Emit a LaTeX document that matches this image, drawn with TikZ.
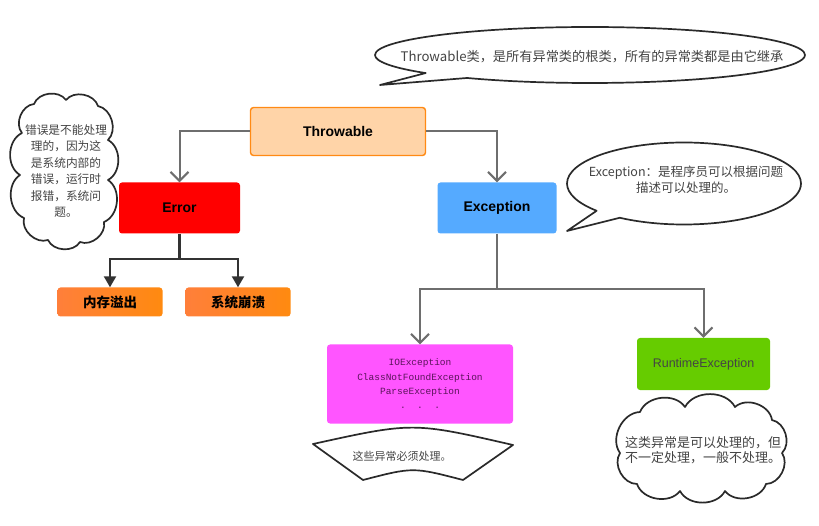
\documentclass[tikz,border=0pt]{standalone}
\usepackage{fontspec}
\setmainfont{Liberation Sans}
\newfontfamily\cjk{Noto Sans CJK SC}
\newfontfamily\monof{Liberation Mono}
\usetikzlibrary{shapes.symbols,shapes.callouts,arrows.meta}
\definecolor{conn}{HTML}{6E6E6E}
\definecolor{dconn}{HTML}{333333}
\definecolor{thrfill}{HTML}{FFD4A8}
\definecolor{thrdraw}{HTML}{FF8A14}
\definecolor{errfill}{HTML}{FF0000}
\definecolor{excfill}{HTML}{55AAFF}
\definecolor{orL}{HTML}{FF7F3A}
\definecolor{orR}{HTML}{FF8A10}
\definecolor{magfill}{HTML}{FF55FF}
\definecolor{magtext}{HTML}{5A145A}
\definecolor{rtfill}{HTML}{66CC00}
\definecolor{bubline}{HTML}{2A2A2A}
\definecolor{bubtext}{HTML}{444444}
\begin{document}
\begin{tikzpicture}[x=1pt,y=-1pt,
  box/.style={rectangle, rounded corners=3pt, inner sep=0pt},
  boldlabel/.style={font=\bfseries\fontsize{14}{16}\selectfont, text=black},
  cjklabel/.style={font=\cjk\bfseries\fontsize{13.5}{16}\selectfont, text=black},
  conn/.style={draw=conn, line width=2pt, -{Straight Barb[length=9pt,width=18pt,line width=2pt]}},
  dconn/.style={draw=dconn, line width=2.2pt, -{Triangle[length=11pt,width=12pt]}},
  bub/.style={draw=bubline, line width=1.7pt, fill=white, line join=round},
  puff/.style={bend left=62},
  bubtxt/.style={text=bubtext, inner sep=0pt, align=center}]
\useasboundingbox (0,0) rectangle (819,526);

% main boxes
\node[box, fill=thrfill, draw=thrdraw, line width=1.4pt, minimum width=175pt, minimum height=48pt, boldlabel] (thr) at (338,131.5) {Throwable};
\node[box, fill=errfill, minimum width=121pt, minimum height=51pt, boldlabel] (err) at (179.5,208) {Error};
\node[box, fill=excfill, minimum width=119pt, minimum height=51pt, boldlabel] (exc) at (497,208) {Exception};
\node[box, left color=orL, right color=orR, minimum width=105pt, minimum height=29pt, cjklabel] (oom) at (110,302) {内存溢出};
\node[box, left color=orL, right color=orR, minimum width=105pt, minimum height=29pt, cjklabel] (crash) at (238,302) {系统崩溃};
\node[box, fill=magfill, minimum width=186pt, minimum height=79pt, text=magtext, align=center,
      font=\monof\fontsize{9.5}{14.3}\selectfont] (chk) at (420,384) {IOException\\ClassNotFoundException\\ParseException\\.\ \ .\ \ .};
\node[box, fill=rtfill, minimum width=133pt, minimum height=52pt, text=bubtext,
      font=\fontsize{12.5}{15}\selectfont] (rt) at (703.5,364) {RuntimeException};

% connectors
\draw[conn] (thr.west) -| (err.north);
\draw[conn] (thr.east) -| (exc.north);
\coordinate (ej) at (179.5,259);
\draw[dconn] (err.south) -- (ej) -| (oom.north);
\draw[dconn] (ej) -| (crash.north);
\coordinate (xj) at (497,289);
\draw[conn] (exc.south) -- (xj) -| (chk.north);
\draw[conn] (xj) -| (rt.north);

% speech bubbles
\node[ellipse callout, bub, minimum width=430pt, minimum height=56pt, inner sep=0pt,
      callout absolute pointer={(380,85)}] (b1) at (590,55) {};
\node[bubtxt, font=\cjk\fontsize{13.2}{16}\selectfont] (b1t) at (592,57) {Throwable类，是所有异常类的根类，所有的异常类都是由它继承};

\node[ellipse callout, bub, minimum width=234pt, minimum height=82pt, inner sep=0pt,
      callout absolute pointer={(567,231)}] (b2) at (684,183.5) {};
\node[bubtxt, font=\cjk\fontsize{12.5}{16}\selectfont] (b2t) at (686,180) {Exception：是程序员可以根据问题\\描述可以处理的。};

% clouds
\draw[bub] (34,104) to[puff] (66,100) to[puff] (98,106) to[puff] (108,140) to[puff] (108,180)
  to[puff] (104,222) to[puff] (80,242) to[puff] (48,240) to[puff] (24,218) to[puff] (20,175)
  to[puff] (22,133) to[puff] (34,104) -- cycle;
\node[bubtxt, font=\cjk\fontsize{11.7}{16.5}\selectfont] (c1t) at (66,171) {错误是不能处理\\理的，因为这\\是系统内部的\\错误，运行时\\报错，系统问\\题。};

\draw[bub] (640,412) to[puff] (685,407) to[puff] (735,407) to[puff] (772,420) to[puff] (782,453)
  to[puff] (766,484) to[puff] (725,491) to[puff] (680,491) to[puff] (637,484) to[puff] (620,453)
  to[puff] (640,412) -- cycle;
\node[bubtxt, font=\cjk\fontsize{13}{15}\selectfont] (c2t) at (703,450) {这类异常是可以处理的，但\\不一定处理，一般不处理。};

% fan-shaped note
\draw[bub] (313,444) .. controls (413,422) .. (513,445) -- (463,480) .. controls (413,467) .. (363,480) -- cycle;
\node[bubtxt, font=\cjk\fontsize{11}{13}\selectfont] (fant) at (402,456) {这些异常必须处理。};
\end{tikzpicture}
\end{document}
